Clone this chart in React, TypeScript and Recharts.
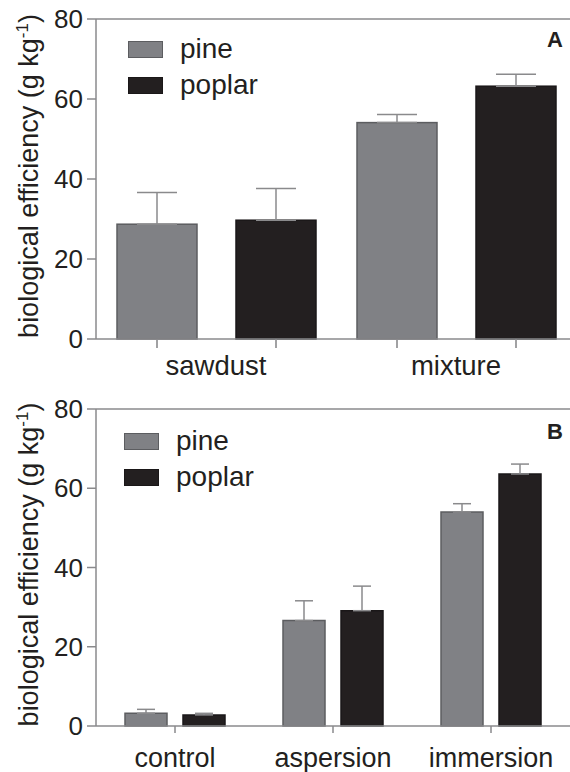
import React from 'react';
import { BarChart, Bar, XAxis, YAxis, ErrorBar, Legend, ReferenceLine } from 'recharts';

// ---- data ----
const substratesA = ['sawdust', 'mixture'];
const pineA = [28.7, 54.1];
const pineErrA = [7.9, 2.0];
const poplarA = [29.7, 63.2];
const poplarErrA = [7.9, 3.0];

const treatmentsB = ['control', 'aspersion', 'immersion'];
const pineB = [3.2, 26.6, 54.0];
const pineErrB = [1.0, 5.0, 2.1];
const poplarB = [2.8, 29.1, 63.6];
const poplarErrB = [0.4, 6.2, 2.5];

const yTicks = [0, 20, 40, 60, 80];
const seriesNames = ['pine', 'poplar'];
const panelLabels = ['A', 'B'];

const dataA = substratesA.map((name, i) => ({
  name,
  pine: pineA[i],
  pineErr: [0, pineErrA[i]],
  poplar: poplarA[i],
  poplarErr: [0, poplarErrA[i]],
}));
const dataB = treatmentsB.map((name, i) => ({
  name,
  pine: pineB[i],
  pineErr: [0, pineErrB[i]],
  poplar: poplarB[i],
  poplarErr: [0, poplarErrB[i]],
}));

// ---- styles ----
const FONT = '"Liberation Sans", Arial, sans-serif';
const TEXT = '#231f20';
const AXIS = '#8a8a8c';
const PINE_FILL = '#808185';
const PINE_STROKE = '#5c5d60';
const POPLAR_FILL = '#231f20';
const POPLAR_STROKE = '#1a1718';

const YLabel = (props: any) => {
  const vb = props.viewBox || {};
  const cx = (vb.x || 0) + 38;
  const cy = (vb.y || 0) + (vb.height || 0) / 2 - 3;
  return (
    <text
      x={cx}
      y={cy}
      transform={`rotate(-90, ${cx}, ${cy})`}
      textAnchor="middle"
      fill={TEXT}
      fontSize={27}
      fontFamily={FONT}
    >
      <tspan>biological efficiency (g kg</tspan>
      <tspan dy={-10} fontSize={17}>-1</tspan>
      <tspan dy={10}>)</tspan>
    </text>
  );
};

// bar with a small axis tick drawn under its centre (panel A style)
const BarWithTick = (props: any) => {
  const { x, y, width, height, fill, stroke, strokeWidth } = props;
  return (
    <g>
      <rect x={x} y={y} width={width} height={height} fill={fill} stroke={stroke} strokeWidth={strokeWidth} />
      <line
        x1={x + width / 2}
        x2={x + width / 2}
        y1={y + height}
        y2={y + height + 9}
        stroke={AXIS}
        strokeWidth={1.6}
      />
    </g>
  );
};

const LegendContent = (props: any) => {
  const payload = props.payload || [];
  return (
    <div>
      {payload.map((p: any) => (
        <div key={p.value} style={{ display: 'flex', alignItems: 'center', height: 36 }}>
          <span
            style={{
              display: 'inline-block',
              width: 35,
              height: 17,
              boxSizing: 'border-box',
              background: p.color,
              border: `1.5px solid ${p.payload && p.payload.stroke ? p.payload.stroke : p.color}`,
            }}
          />
          <span style={{ marginLeft: 17, fontSize: 28, fontFamily: FONT, color: TEXT, lineHeight: '28px' }}>
            {p.value}
          </span>
        </div>
      ))}
    </div>
  );
};

const yAxisProps = {
  type: 'number' as const,
  domain: [0, 80],
  ticks: yTicks,
  width: 96,
  axisLine: { stroke: AXIS, strokeWidth: 1.5 },
  tickLine: { stroke: AXIS, strokeWidth: 1.5 },
  tickSize: 9,
  tickMargin: 4,
  tick: { fill: TEXT, fontSize: 26, fontFamily: FONT },
  interval: 0 as const,
};

const PanelTag = ({ text, top }: { text: string; top: number }) => (
  <div
    style={{
      position: 'absolute',
      left: 547,
      top,
      fontFamily: FONT,
      fontWeight: 'bold',
      fontSize: 22,
      lineHeight: '22px',
      color: TEXT,
    }}
  >
    {text}
  </div>
);

export default function App() {
  return (
    <div
      style={{
        position: 'absolute',
        left: 0,
        top: 0,
        width: 570,
        height: 772,
        overflow: 'hidden',
        background: '#ffffff',
        fontFamily: FONT,
      }}
    >
      {/* Panel A */}
      <div style={{ position: 'absolute', left: 0, top: 0, width: 580, height: 386 }}>
        <BarChart
          width={580}
          height={386}
          data={dataA}
          margin={{ top: 19, right: 4, bottom: 0, left: 0 }}
          barSize={80}
          barGap={39}
        >
          <XAxis
            dataKey="name"
            height={47}
            axisLine={{ stroke: AXIS, strokeWidth: 1.5 }}
            tickLine={false}
            tickSize={8}
            tickMargin={8}
            tick={{ fill: TEXT, fontSize: 27.5, fontFamily: FONT }}
          />
          <YAxis {...yAxisProps} label={<YLabel />} />
          <ReferenceLine y={80} stroke={AXIS} strokeWidth={1.5} />
          <Legend
            layout="vertical"
            align="center"
            verticalAlign="middle"
            content={<LegendContent />}
            wrapperStyle={{ left: 128, top: 31, width: 'auto' }}
          />
          <Bar
            dataKey="pine"
            name={seriesNames[0]}
            fill={PINE_FILL}
            stroke={PINE_STROKE}
            strokeWidth={1.5}
            shape={<BarWithTick />}
            isAnimationActive={false}
          >
            <ErrorBar dataKey="pineErr" width={20} stroke={AXIS} strokeWidth={1.5} direction="y" isAnimationActive={false} />
          </Bar>
          <Bar
            dataKey="poplar"
            name={seriesNames[1]}
            fill={POPLAR_FILL}
            stroke={POPLAR_STROKE}
            strokeWidth={1.5}
            shape={<BarWithTick />}
            isAnimationActive={false}
          >
            <ErrorBar dataKey="poplarErr" width={20} stroke={AXIS} strokeWidth={1.5} direction="y" isAnimationActive={false} />
          </Bar>
        </BarChart>
        <PanelTag text={panelLabels[0]} top={29} />
      </div>

      {/* Panel B */}
      <div style={{ position: 'absolute', left: 0, top: 386, width: 570, height: 386 }}>
        <BarChart
          width={570}
          height={386}
          data={dataB}
          margin={{ top: 23, right: 0, bottom: 0, left: 0 }}
          barSize={42}
          barGap={16}
        >
          <XAxis
            dataKey="name"
            height={46}
            axisLine={{ stroke: AXIS, strokeWidth: 1.5 }}
            tickLine={{ stroke: AXIS, strokeWidth: 1.5 }}
            tickSize={7}
            tickMargin={15}
            tick={{ fill: TEXT, fontSize: 27, fontFamily: FONT }}
            interval={0}
          />
          <YAxis {...yAxisProps} label={<YLabel />} />
          <ReferenceLine y={80} stroke={AXIS} strokeWidth={1.5} />
          <Legend
            layout="vertical"
            align="center"
            verticalAlign="middle"
            content={<LegendContent />}
            wrapperStyle={{ left: 124, top: 37, width: 'auto' }}
          />
          <Bar
            dataKey="pine"
            name={seriesNames[0]}
            fill={PINE_FILL}
            stroke={PINE_STROKE}
            strokeWidth={1.5}
            isAnimationActive={false}
          >
            <ErrorBar dataKey="pineErr" width={9} stroke={AXIS} strokeWidth={1.5} direction="y" isAnimationActive={false} />
          </Bar>
          <Bar
            dataKey="poplar"
            name={seriesNames[1]}
            fill={POPLAR_FILL}
            stroke={POPLAR_STROKE}
            strokeWidth={1.5}
            isAnimationActive={false}
          >
            <ErrorBar dataKey="poplarErr" width={9} stroke={AXIS} strokeWidth={1.5} direction="y" isAnimationActive={false} />
          </Bar>
        </BarChart>
        <PanelTag text={panelLabels[1]} top={35} />
      </div>
    </div>
  );
}
